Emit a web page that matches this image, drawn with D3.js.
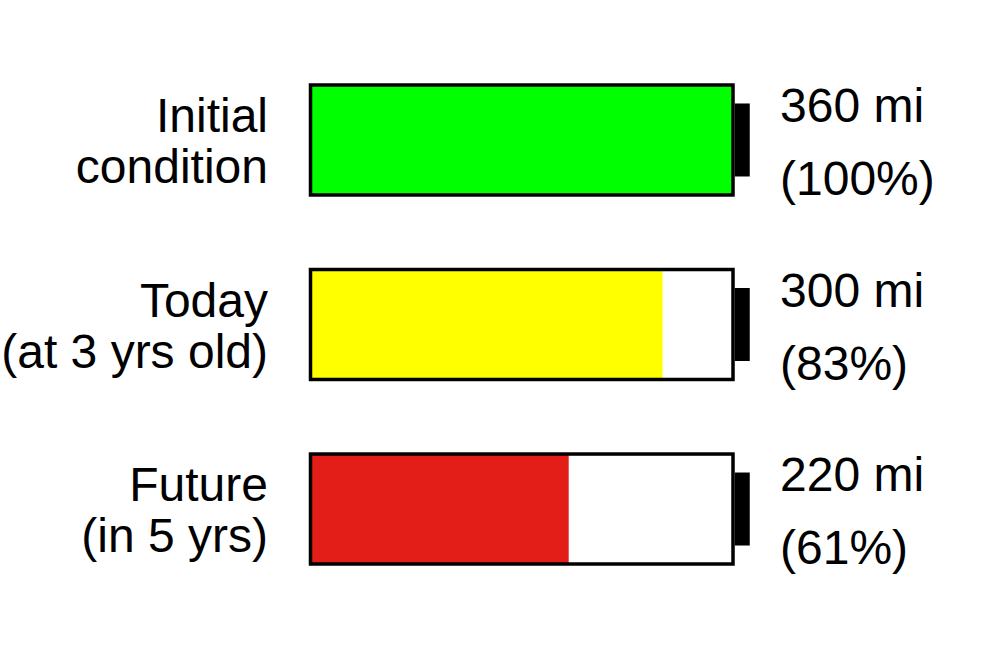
<!DOCTYPE html>
<html><head><meta charset="utf-8">
<script src="https://cdn.jsdelivr.net/npm/d3@7"></script>
<style>body{margin:0;background:#fff}svg{display:block}</style>
</head><body>
<svg id="chart" width="1000" height="650"></svg>
<script>
const labels = [["Initial","condition"],["Today","(at 3 yrs old)"],["Future","(in 5 yrs)"]];
const ranges = [360, 300, 220];
const percents = ["(100%)","(83%)","(61%)"];
const colors = ["#00ff00","#ffff00","#e31e18"];
const maxRange = 360;

const svg = d3.select("#chart");
const x = d3.scaleLinear().domain([0, maxRange]).range([310.5, 733]);
const y = d3.scaleBand().domain(d3.range(ranges.length)).range([85, 564]).paddingInner(0.404).paddingOuter(0);
const font = "'Liberation Sans', Arial, Helvetica, sans-serif";
const fs = 48;

const g = svg.selectAll("g.row").data(ranges).join("g").attr("class","row");

g.append("rect")
  .attr("x", x(0)).attr("y", (d,i)=>y(i))
  .attr("width", d=>x(d)-x(0)).attr("height", y.bandwidth())
  .attr("fill", (d,i)=>colors[i]);

g.append("rect")
  .attr("x", x(0)).attr("y", (d,i)=>y(i))
  .attr("width", x(maxRange)-x(0)).attr("height", y.bandwidth())
  .attr("fill", "none").attr("stroke", "#000").attr("stroke-width", 3.5);

const nubH = 73;
g.append("rect")
  .attr("x", x(maxRange)+1.75).attr("y", (d,i)=>y(i)+y.bandwidth()/2-nubH/2)
  .attr("width", 15).attr("height", nubH).attr("fill", "#000");

g.each(function(d,i){
  const c = y(i) + y.bandwidth()/2;
  const sel = d3.select(this);
  sel.append("text").attr("x", 268).attr("y", c-8)
    .attr("text-anchor","end").attr("font-family",font).attr("font-size",fs).text(labels[i][0]);
  sel.append("text").attr("x", 268).attr("y", c+43)
    .attr("text-anchor","end").attr("font-family",font).attr("font-size",fs).text(labels[i][1]);
  sel.append("text").attr("x", 780).attr("y", c-18)
    .attr("font-family",font).attr("font-size",fs).text(d + " mi");
  sel.append("text").attr("x", 780).attr("y", c+55)
    .attr("font-family",font).attr("font-size",fs).text(percents[i]);
});
</script>
</body></html>
